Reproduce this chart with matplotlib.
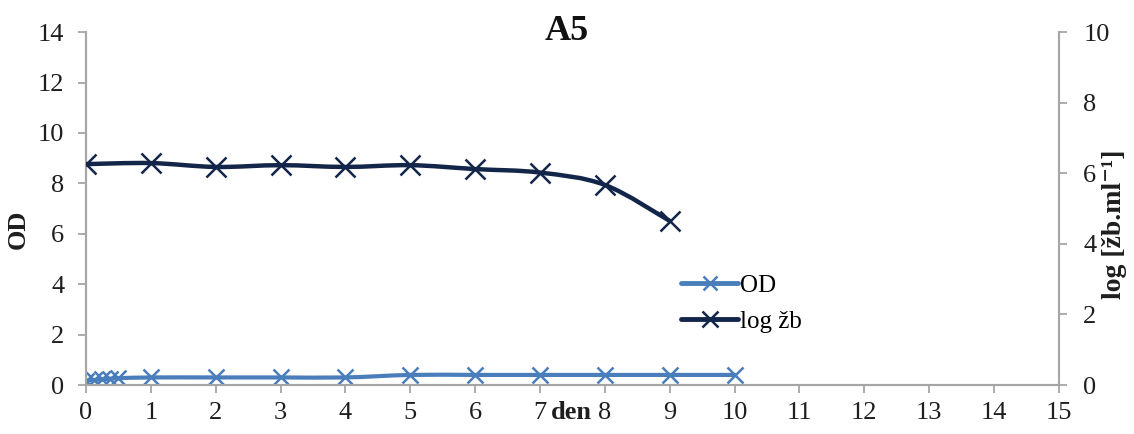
import numpy as np
import matplotlib
matplotlib.use("Agg")
import matplotlib.pyplot as plt
from matplotlib.path import Path
from matplotlib.patches import PathPatch
from matplotlib.lines import Line2D
from matplotlib.transforms import IdentityTransform

plt.rcParams['font.family'] = ['Liberation Serif', 'DejaVu Serif']

# Data
od_days = [0, 0.125, 0.25, 0.375, 0.5, 1, 2, 3, 4, 5, 6, 7, 8, 9, 10]
od_values = [0.17, 0.2, 0.22, 0.25, 0.27, 0.3, 0.3, 0.3, 0.3, 0.4, 0.4, 0.4, 0.4, 0.4, 0.4]
cells_days = [0, 1, 2, 3, 4, 5, 6, 7, 8, 9]
cells_log = [6.26, 6.29, 6.18, 6.23, 6.18, 6.23, 6.12, 6.02, 5.67, 4.65]

x_ticks = list(range(0, 16))
od_ticks = [0, 2, 4, 6, 8, 10, 12, 14]
log_ticks = [0, 2, 4, 6, 8, 10]

OD_COLOR = '#4a7ebb'
LOG_COLOR = '#13264a'
AXIS_GRAY = '#a6a6a6'
TEXT_COLOR = '#1e1e1e'


def smooth_path(xs, ys, k=1 / 6):
    """Cubic Bezier path through the points (Catmull-Rom style smoothing)."""
    pts = np.column_stack([xs, ys]).astype(float)
    n = len(pts)
    verts = [pts[0]]
    codes = [Path.MOVETO]
    for i in range(n - 1):
        p0 = pts[i - 1] if i > 0 else pts[i]
        p1 = pts[i]
        p2 = pts[i + 1]
        p3 = pts[i + 2] if i + 2 < n else pts[i + 1]
        c1 = p1 + (p2 - p0) * k
        c2 = p2 - (p3 - p1) * k
        verts += [c1, c2, p2]
        codes += [Path.CURVE4] * 3
    return Path(verts, codes)


fig = plt.figure(figsize=(11.34, 4.34), dpi=100)
ax = fig.add_axes([0.0758, 0.1129, 0.858, 0.813])
ax2 = ax.twinx()

ax.set_xlim(0, 15)
ax.set_ylim(0, 14)
ax2.set_ylim(0, 10)

# OD series (primary axis)
ax.add_patch(PathPatch(smooth_path(od_days, od_values), facecolor='none',
                       edgecolor=OD_COLOR, lw=3, capstyle='round', zorder=3))
ax.plot(od_days, od_values, ls='none', marker='x', ms=11, mew=1.8,
        color=OD_COLOR, zorder=4)

# log cell count series (secondary axis)
ax2.add_patch(PathPatch(smooth_path(cells_days, cells_log), facecolor='none',
                        edgecolor=LOG_COLOR, lw=3.2, capstyle='round', zorder=3))
ax2.plot(cells_days, cells_log, ls='none', marker='x', ms=14, mew=1.8,
         color=LOG_COLOR, zorder=4)

# Axes styling
for a in (ax, ax2):
    a.spines['top'].set_visible(False)
    for s in ('left', 'right', 'bottom'):
        a.spines[s].set_color(AXIS_GRAY)
        a.spines[s].set_linewidth(1.5)
    a.tick_params(colors=TEXT_COLOR, labelsize=19, length=5.5, width=1.3,
                  color=AXIS_GRAY, direction='out')

ax.set_xticks(x_ticks)
ax.set_yticks(od_ticks)
ax2.set_yticks(log_ticks)
ax.tick_params(axis='x', pad=7)
ax.tick_params(axis='y', pad=10)
ax2.tick_params(axis='y', pad=12)

ax.set_ylabel('OD', fontsize=19, fontweight='bold', color=TEXT_COLOR)
ax.yaxis.set_label_coords(-0.058, 0.44)
ax2.set_ylabel('log [žb.ml⁻¹]', fontsize=20, fontweight='bold',
               color=TEXT_COLOR)
ax2.yaxis.set_label_coords(1.044, 0.455)

fig.text(0.5, 0.965, 'A5', ha='center', va='top', fontsize=26,
         fontweight='bold', color='#111111')

handles = [
    Line2D([], [], color=OD_COLOR, lw=3.5, marker='x', ms=10, mew=1.8,
           solid_capstyle='round'),
    Line2D([], [], color=LOG_COLOR, lw=3.5, marker='x', ms=12, mew=1.8,
           solid_capstyle='round'),
]
fig.legend(handles, ['OD', 'log žb'], loc='upper left',
           bbox_to_anchor=(0.6005, 0.368), frameon=False, fontsize=18,
           handlelength=2.3, handletextpad=0.05, labelspacing=0.55,
           borderpad=0, borderaxespad=0)

# Axis title "den" sits in the tick-label row, between days 7 and 8
fig.canvas.draw()
lab7 = ax.get_xticklabels()[7].get_window_extent()
x_den = ax.transData.transform((7.49, 0))[0]
fig.text(x_den, lab7.y0, 'den', transform=IdentityTransform(),
         ha='center', va='bottom', fontsize=19, fontweight='bold',
         color=TEXT_COLOR)

fig.savefig('out.png', dpi=100)
